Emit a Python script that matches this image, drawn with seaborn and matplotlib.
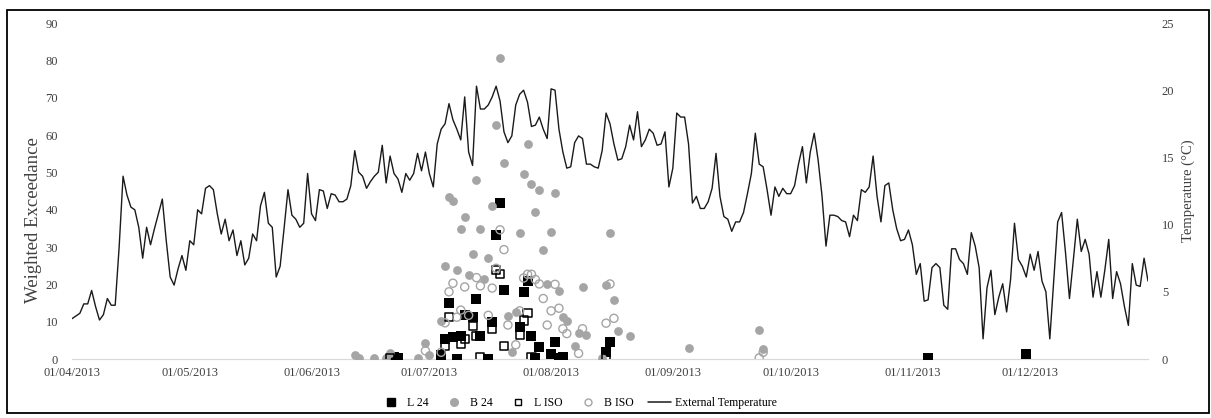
import matplotlib
matplotlib.use("Agg")
import matplotlib.pyplot as plt
import matplotlib.dates as mdates
from matplotlib.lines import Line2D
from matplotlib.patches import Rectangle
import pandas as pd
import seaborn as sns

# %% data
# daily external temperature (°C), 01/04/2013 .. 31/12/2013
temp_start = "2013-04-01"
ext_temp = [
    3.0, 3.2, 3.4, 4.1, 4.1, 5.1, 3.9, 2.9, 3.3, 4.5,
    4.0, 4.0, 8.3, 13.6, 12.2, 11.3, 11.1, 9.8, 7.5, 9.8,
    8.5, 9.7, 10.8, 11.9, 8.8, 6.1, 5.5, 6.7, 7.7, 6.6,
    8.8, 8.5, 11.1, 10.8, 12.7, 12.9, 12.6, 10.8, 9.3, 10.4,
    8.8, 9.6, 7.7, 8.8, 7.0, 7.5, 9.3, 8.8, 11.4, 12.4,
    10.1, 9.8, 6.1, 6.9, 9.7, 12.6, 10.7, 10.4, 9.8, 10.1,
    13.8, 10.8, 10.3, 12.6, 12.5, 11.2, 12.3, 12.2, 11.7, 11.7,
    11.9, 12.9, 15.5, 13.9, 13.6, 12.7, 13.2, 13.6, 13.9, 15.9,
    13.1, 15.1, 13.8, 13.4, 12.4, 13.8, 13.3, 13.8, 15.3, 14.0,
    15.4, 13.8, 12.8, 16.0, 17.1, 17.5, 19.0, 17.8, 17.1, 16.3,
    19.5, 15.4, 14.4, 20.3, 18.6, 18.6, 18.9, 19.5, 20.3, 19.2,
    16.9, 16.1, 16.6, 18.9, 19.7, 20.0, 19.1, 17.3, 17.4, 18.0,
    17.1, 16.4, 20.1, 20.0, 17.1, 15.4, 14.2, 14.3, 16.1, 16.6,
    16.4, 14.5, 14.5, 14.3, 14.2, 15.5, 18.3, 17.5, 16.0, 14.8,
    14.9, 15.8, 17.4, 16.3, 18.4, 15.8, 16.3, 17.1, 16.8, 15.9,
    16.0, 16.9, 12.8, 14.2, 18.3, 18.0, 18.0, 16.0, 11.6, 12.1,
    11.2, 11.2, 11.7, 12.7, 15.3, 12.1, 10.6, 10.4, 9.5, 10.2,
    10.2, 10.9, 12.3, 13.8, 16.8, 14.5, 14.3, 12.6, 10.7, 12.8,
    12.1, 12.7, 12.3, 12.3, 12.9, 14.5, 15.8, 13.1, 15.4, 16.8,
    14.8, 12.1, 8.4, 10.7, 10.7, 10.6, 10.3, 10.2, 9.1, 10.7,
    10.3, 12.6, 12.4, 12.8, 15.1, 12.1, 10.2, 12.9, 13.1, 11.1,
    9.7, 8.8, 8.9, 9.6, 8.5, 6.3, 7.1, 4.3, 4.4, 6.8,
    7.1, 6.8, 4.0, 3.7, 8.2, 8.2, 7.4, 7.1, 6.3, 9.4,
    8.4, 6.8, 1.5, 5.3, 6.6, 3.3, 4.6, 5.6, 3.5, 5.9,
    10.1, 7.4, 6.9, 6.1, 7.8, 6.6, 8.0, 5.8, 5.0, 1.5,
    5.9, 10.2, 10.9, 7.9, 4.5, 7.4, 10.4, 8.0, 8.9, 7.8,
    4.6, 6.5, 4.6, 6.6, 8.9, 4.5, 6.5, 5.6, 3.9, 2.5,
    7.1, 5.5, 5.4, 7.5, 5.8,
]

l24_dates = [
    "2013-06-22", "2013-06-23", "2013-07-04", "2013-07-05", "2013-07-06",
    "2013-07-07", "2013-07-08", "2013-07-09", "2013-07-10", "2013-07-12",
    "2013-07-13", "2013-07-14", "2013-07-16", "2013-07-17", "2013-07-18",
    "2013-07-19", "2013-07-20", "2013-07-24", "2013-07-25", "2013-07-26",
    "2013-07-27", "2013-07-28", "2013-07-29", "2013-08-01", "2013-08-02",
    "2013-08-03", "2013-08-04", "2013-08-15", "2013-08-16", "2013-11-05",
    "2013-11-30",
]
l24_vals = [
    0.5, 0.2, 1.0, 5.3, 15.1, 6.0, 0.0, 6.2, 11.8, 11.3,
    16.0, 6.1, 0.0, 10.0, 33.1, 41.7, 18.4, 8.5, 18.0, 20.8,
    6.2, 0.4, 3.1, 1.3, 4.6, 0.2, 0.6, 2.0, 4.6, 0.2,
    1.3,
]

b24_dates = [
    "2013-06-12", "2013-06-13", "2013-06-17", "2013-06-20", "2013-06-21",
    "2013-06-28", "2013-06-30", "2013-07-01", "2013-07-04", "2013-07-05",
    "2013-07-06", "2013-07-07", "2013-07-08", "2013-07-09", "2013-07-10",
    "2013-07-11", "2013-07-12", "2013-07-13", "2013-07-14", "2013-07-15",
    "2013-07-16", "2013-07-17", "2013-07-18", "2013-07-19", "2013-07-20",
    "2013-07-21", "2013-07-22", "2013-07-23", "2013-07-24", "2013-07-25",
    "2013-07-26", "2013-07-27", "2013-07-28", "2013-07-29", "2013-07-30",
    "2013-07-31", "2013-08-01", "2013-08-02", "2013-08-03", "2013-08-04",
    "2013-08-05", "2013-08-07", "2013-08-08", "2013-08-09", "2013-08-10",
    "2013-08-14", "2013-08-15", "2013-08-16", "2013-08-17", "2013-08-18",
    "2013-08-21", "2013-09-05", "2013-09-23", "2013-09-24",
]
b24_vals = [
    1.0, 0.2, 0.2, 0.2, 1.5, 0.3, 4.2, 1.0, 10.3, 24.8,
    43.5, 42.2, 23.8, 34.8, 38.1, 22.5, 28.0, 47.9, 34.8, 21.3,
    27.1, 41.0, 62.6, 80.6, 52.5, 11.5, 2.0, 12.7, 33.7, 49.6,
    57.7, 47.0, 39.3, 45.4, 29.2, 20.1, 34.0, 44.5, 18.3, 11.3,
    10.3, 3.5, 6.9, 19.2, 6.4, 0.2, 19.8, 33.7, 15.9, 7.6,
    6.2, 2.9, 7.7, 2.7,
]

liso_dates = [
    "2013-06-21", "2013-07-05", "2013-07-06", "2013-07-09", "2013-07-10",
    "2013-07-12", "2013-07-13", "2013-07-14", "2013-07-17", "2013-07-18",
    "2013-07-19", "2013-07-20", "2013-07-24", "2013-07-25", "2013-07-26",
    "2013-07-27", "2013-08-02", "2013-08-15",
]
liso_vals = [
    0.2, 3.5, 11.3, 4.1, 5.3, 8.9, 6.2, 0.4, 8.0, 23.8,
    22.7, 3.6, 6.4, 10.3, 12.4, 0.5, 0.1, 0.3,
]

biso_dates = [
    "2013-06-30", "2013-07-04", "2013-07-05", "2013-07-06", "2013-07-07",
    "2013-07-08", "2013-07-09", "2013-07-10", "2013-07-11", "2013-07-13",
    "2013-07-14", "2013-07-16", "2013-07-17", "2013-07-18", "2013-07-19",
    "2013-07-20", "2013-07-21", "2013-07-23", "2013-07-24", "2013-07-25",
    "2013-07-26", "2013-07-27", "2013-07-28", "2013-07-29", "2013-07-30",
    "2013-07-31", "2013-08-01", "2013-08-02", "2013-08-03", "2013-08-04",
    "2013-08-05", "2013-08-08", "2013-08-09", "2013-08-15", "2013-08-16",
    "2013-08-17", "2013-09-23", "2013-09-24",
]
biso_vals = [
    2.2, 1.8, 9.7, 18.0, 20.3, 11.2, 13.1, 19.3, 11.7, 21.8,
    19.6, 11.7, 19.0, 24.3, 34.6, 29.3, 9.1, 3.8, 12.9, 21.7,
    22.7, 22.7, 21.3, 20.1, 16.2, 9.1, 12.9, 20.0, 13.6, 8.1,
    6.8, 1.5, 8.1, 9.6, 20.1, 10.9, 0.3, 1.8,
]

legend_labels = ["L 24", "B 24", "L ISO", "B ISO", "External Temperature"]

# %% style
sns.set_style("white")
plt.rcParams["font.family"] = ["Liberation Serif", "DejaVu Serif"]
GREY = "#a5a5a5"
TXT = "#404040"

W, H = 1211, 418
fig = plt.figure(figsize=(W / 100, H / 100), dpi=100)
ax = fig.add_axes([72 / W, 1 - 359 / H, (1148 - 72) / W, (359 - 23) / H])

temp_df = pd.DataFrame(
    {"date": pd.date_range(temp_start, periods=len(ext_temp), freq="D"), "temp": ext_temp}
)

# %% scatter series (primary axis)
sns.scatterplot(x=pd.to_datetime(l24_dates), y=l24_vals, marker="s", s=42,
                color="black", linewidth=0, ax=ax, zorder=3)
sns.scatterplot(x=pd.to_datetime(b24_dates), y=b24_vals, marker="o", s=40,
                color=GREY, linewidth=0, ax=ax, zorder=3)
sns.scatterplot(x=pd.to_datetime(liso_dates), y=liso_vals, marker="s", s=34,
                facecolor="none", edgecolor="black", linewidth=1.1, ax=ax, zorder=3)
sns.scatterplot(x=pd.to_datetime(biso_dates), y=biso_vals, marker="o", s=34,
                facecolor="none", edgecolor=GREY, linewidth=1.0, ax=ax, zorder=3)

ax.set_ylim(0, 90)
ax.set_yticks(range(0, 91, 10))
ax.set_xlim(pd.Timestamp("2013-04-01"), pd.Timestamp("2013-12-31"))
ax.xaxis.set_major_locator(mdates.MonthLocator(bymonth=range(4, 13)))
ax.xaxis.set_major_formatter(mdates.DateFormatter("%d/%m/%Y"))
ax.set_xlabel("")
ax.set_ylabel("Weighted Exceedance", fontsize=13.5, color=TXT)
ax.yaxis.set_label_coords(-0.028, 0.414)

for side in ["top", "right", "left"]:
    ax.spines[side].set_visible(False)
ax.spines["bottom"].set_color("#d9d9d9")
ax.spines["bottom"].set_linewidth(0.9)
ax.tick_params(axis="x", length=3.5, width=0.9, color="#d9d9d9", pad=2,
               labelsize=9, labelcolor=TXT)
ax.tick_params(axis="y", length=0, pad=10, labelsize=9, labelcolor=TXT)

# %% temperature line (secondary axis)
ax2 = ax.twinx()
sns.lineplot(data=temp_df, x="date", y="temp", color="#1a1a1a", linewidth=1.0, ax=ax2)
ax2.set_ylim(0, 25)
ax2.set_yticks(range(0, 26, 5))
ax2.set_ylabel("Temperature (°C)", fontsize=10.5, color=TXT)
ax2.yaxis.set_label_coords(1.031, 0.5)
for side in ax2.spines:
    ax2.spines[side].set_visible(False)
ax2.tick_params(axis="y", length=0, pad=10, labelsize=9, labelcolor=TXT)
ax2.set_xlim(pd.Timestamp("2013-04-01"), pd.Timestamp("2013-12-31"))

# %% legend
handles = [
    Line2D([], [], ls="none", marker="s", ms=5.5, color="black"),
    Line2D([], [], ls="none", marker="o", ms=5.5, color=GREY),
    Line2D([], [], ls="none", marker="s", ms=5, mfc="none", mec="black", mew=1.0),
    Line2D([], [], ls="none", marker="o", ms=5, mfc="none", mec=GREY, mew=1.0),
    Line2D([], [], color="#1a1a1a", lw=1.1),
]
fig.legend(handles, legend_labels, loc="center", bbox_to_anchor=(578 / W, 1 - 403 / H),
           ncol=5, frameon=False, fontsize=8.5, handlelength=2.0, handletextpad=0.3,
           columnspacing=1.2, labelcolor="black")

# outer chart border
fig.add_artist(Rectangle((7 / W, 1 - 413 / H), 1202 / W, 403 / H, transform=fig.transFigure,
                         fill=False, edgecolor="black", linewidth=1.3))

fig.savefig("out.png", dpi=100)
